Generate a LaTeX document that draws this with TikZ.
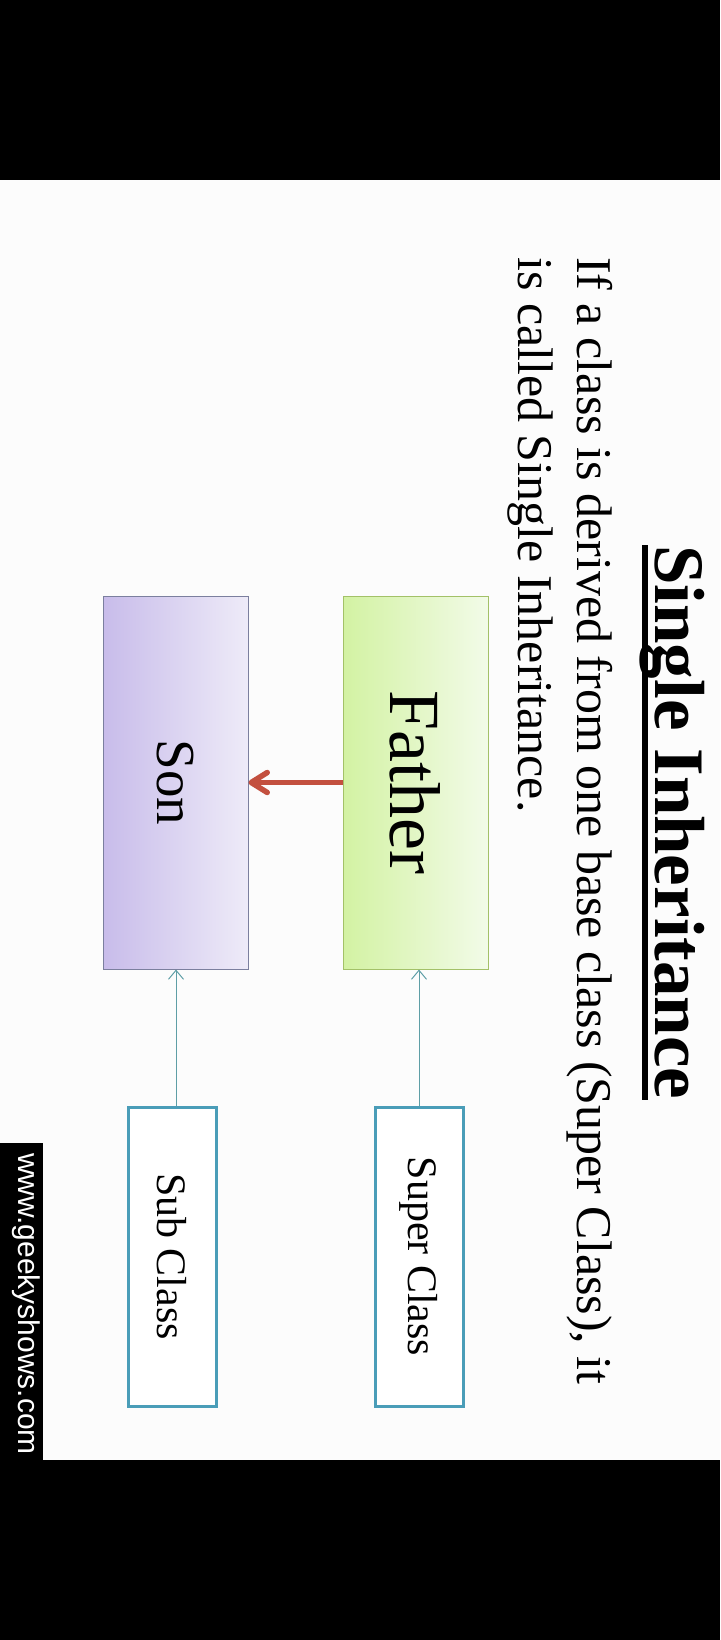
\documentclass[tikz,border=0pt]{standalone}
\usepackage{fontspec}
\setmainfont{Liberation Serif}
\newfontfamily\wmfont{Liberation Sans}
\usetikzlibrary{arrows.meta}
\definecolor{fatherL}{HTML}{D3F2A3}
\definecolor{fatherR}{HTML}{F2FBE8}
\definecolor{fatherB}{HTML}{A3C168}
\definecolor{sonL}{HTML}{C8BCEA}
\definecolor{sonR}{HTML}{EEEBF8}
\definecolor{sonB}{HTML}{7B7F9E}
\definecolor{classB}{HTML}{4A9DB8}
\definecolor{connC}{HTML}{5E9EA6}
\definecolor{redC}{HTML}{C3503F}
\begin{document}
\begin{tikzpicture}[x=1pt,y=-1pt,
  rottext/.style={rotate=-90,anchor=base west,inner sep=0pt},
  bigbox/.style={minimum width=145pt,minimum height=373pt,inner sep=0pt,line width=1pt},
  classbox/.style={draw=classB,fill=white,line width=3pt,minimum width=88pt,minimum height=299pt,inner sep=0pt,font=\fontsize{42}{48}\selectfont},
  thinarrow/.style={draw=connC,line width=1pt,-{Straight Barb[length=9pt,width=15pt]}},
  redarrow/.style={draw=redC,line width=5.5pt,-{Straight Barb[length=16pt,width=20pt,line cap=round,line join=round]}}
]
\useasboundingbox (0,0) rectangle (720,1640);
\fill[white!99!black] (0,0) rectangle (720,1640);
\fill[black] (0,0) rectangle (720,180);
\fill[black] (0,1460) rectangle (720,1640);
\fill[black] (0,1143) rectangle (43,1460);

% title
\node[rottext,font=\fontsize{71}{80}\selectfont\bfseries] (title) at (655,545) {Single Inheritance};
\draw[line width=6pt] ([xshift=-10pt]title.base west) -- ([xshift=-10pt]title.base east);

% body text
\node[rottext,font=\fontsize{50}{59}\selectfont] (body1) at (577,257) {If a class is derived from one base class (Super Class), it};
\node[rottext,font=\fontsize{50}{59}\selectfont] (body2) at (518,257) {is called Single Inheritance.};

% boxes
\node[bigbox,draw=fatherB,left color=fatherL,right color=fatherR,font=\fontsize{72}{80}\selectfont] (father) at (415.5,782.5) {\rotatebox{-90}{Father}};
\node[bigbox,draw=sonB,left color=sonL,right color=sonR,font=\fontsize{55}{62}\selectfont] (son) at (175.5,782.5) {\rotatebox{-90}{Son}};

\node[classbox] (super) at (419,1256.5) {\rotatebox{-90}{Super Class}};
\node[classbox] (sub) at (172,1256.5) {\rotatebox{-90}{Sub Class}};
\coordinate (subtop) at ([xshift=4pt]sub.north);

% connectors
\draw[redarrow] (father.west) -- (son.east);
\draw[thinarrow] (super.north) -- (father.south -| super.north);
\draw[thinarrow] (subtop) -- (son.south -| subtop);

% watermark
\node[rottext,text=white,font=\wmfont\fontsize{30}{34}\selectfont] (wm) at (18,1153) {www.geekyshows.com};
\end{tikzpicture}
\end{document}
